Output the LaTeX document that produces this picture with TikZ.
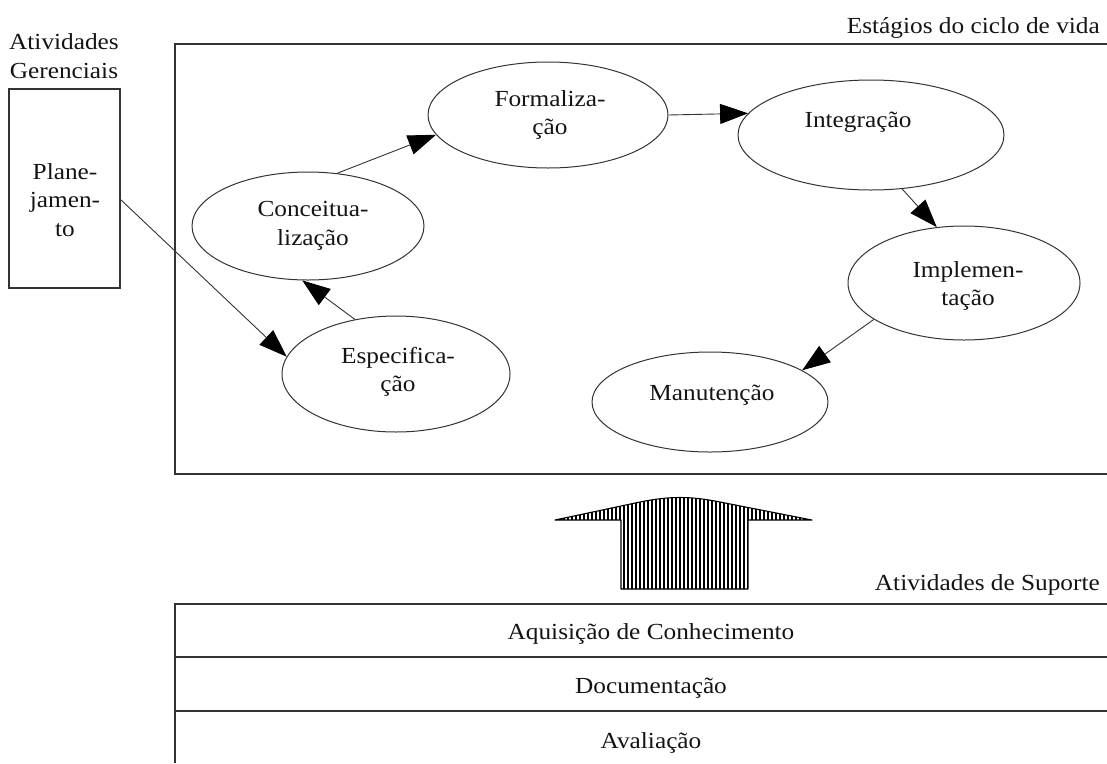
\documentclass[tikz,border=0pt]{standalone}
\usepackage{fontspec}
\setmainfont{Liberation Serif}[FakeStretch=1.1]
\usetikzlibrary{arrows.meta,shapes.geometric}
\begin{document}
\begin{tikzpicture}[x=1pt,y=-1pt,
  lbl/.style={font=\fontsize{23}{28.5}\selectfont, text=black!92, inner sep=0pt, align=center},
  stage/.style={ellipse, draw=black!80, line width=1pt, inner sep=0pt},
  flow/.style={draw=black!80, line width=0.9pt, -{Triangle[length=28pt,width=20pt,fill=black,color=black]}},
  frame/.style={draw=black!80, line width=1.1pt}]
\useasboundingbox (0,0) rectangle (1107,763);

% life-cycle frame (open on the right)
\draw[frame] (1107,44) -- (175,44) -- (175,474) -- (1107,474);
\node[lbl, anchor=base east] (cyc) at (1100,33) {Estágios do ciclo de vida};

% management activities
\node[lbl] (ger) at (64,56) {Atividades\\Gerenciais};
\node[frame, minimum width=111pt, minimum height=199pt, inner sep=0pt] (plan) at (64.5,188.5) {};
\node[lbl] (planT) at (65,200) {Plane-\\jamen-\\to};

% stages
\node[stage, minimum width=232pt, minimum height=108pt] (conc) at (308,226) {};
\node[stage, minimum width=240pt, minimum height=106pt] (form) at (548,115) {};
\node[stage, minimum width=266pt, minimum height=110pt] (integ) at (871,135) {};
\node[stage, minimum width=232pt, minimum height=114pt] (impl) at (964,283) {};
\node[stage, minimum width=236pt, minimum height=100pt] (manut) at (710,402) {};
\node[stage, minimum width=228pt, minimum height=116pt] (esp) at (396,374) {};

\node[lbl] (concT) at (313,226) {Conceitua-\\lização};
\node[lbl] (formT) at (550,115) {Formaliza-\\ção};
\node[lbl, anchor=base] (integT) at (858,127) {Integração};
\node[lbl] (implT) at (968,286) {Implemen-\\tação};
\node[lbl, anchor=base] (manutT) at (712,400) {Manutenção};
\node[lbl] (espT) at (398,372) {Especifica-\\ção};

% flow between stages
\draw[flow] ([yshift=-11pt]plan.east) -- (esp.171);
\draw[flow] (esp.127) -- (conc.264);
\draw[flow] (conc.61) -- (form.190);
\draw[flow] (form.0) -- (integ.170);
\draw[flow] (integ.300) -- (impl.116);
\draw[flow] (impl.202) -- (manut.19);

% hatched support arrow
\def\suparrow{(555,520) -- (621,520) -- (621,589) -- (748,589) -- (748,520) -- (812,520)
  -- (720,502) .. controls (690,496) and (670,496) .. (640,502) -- cycle}
\begin{scope}
  \clip \suparrow;
  \foreach \x in {556,560,...,812} \draw[line width=1.9pt] (\x,490) -- (\x,595);
\end{scope}
\draw[line width=1.1pt, line join=round] \suparrow;

% support activities
\node[lbl, anchor=base east] (sup) at (1100,590) {Atividades de Suporte};
\draw[frame] (1107,604) -- (175,604) -- (175,763);
\draw[frame] (175,657) -- (1107,657);
\draw[frame] (175,711) -- (1107,711);
\node[lbl, anchor=base] (aq) at (651,639) {Aquisição de Conhecimento};
\node[lbl, anchor=base] (doc) at (651,693) {Documentação};
\node[lbl, anchor=base] (aval) at (651,748) {Avaliação};
\end{tikzpicture}
\end{document}
